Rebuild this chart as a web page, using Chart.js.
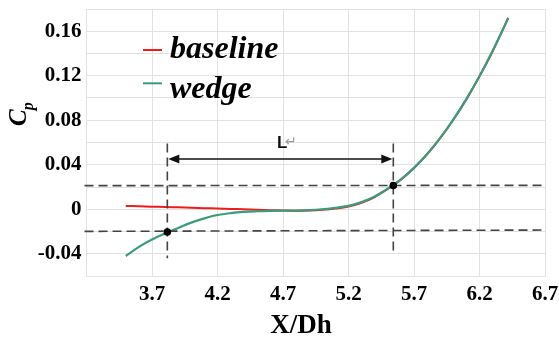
<!DOCTYPE html>
<html><head><meta charset="utf-8">
<script src="https://cdn.jsdelivr.net/npm/chart.js"></script>
<style>html,body{margin:0;padding:0;background:#fff;}#wrap{width:559px;height:338px;position:relative;}</style>
</head><body><div id="wrap"><canvas id="c"></canvas></div>
<script>
// ---- data ----
const xValues  = [3.5, 3.6, 3.7, 3.8, 3.9, 4.0, 4.1, 4.2, 4.3, 4.4, 4.5, 4.6, 4.7, 4.8, 4.9, 5.0, 5.1, 5.2, 5.3, 5.4, 5.5, 5.6, 5.7, 5.8, 5.9, 6.0, 6.1, 6.2, 6.3, 6.42];
const baseline = [0.003, 0.0027, 0.0023, 0.002, 0.0017, 0.0013, 0.001, 0.0006, 0.0003, 0.0, -0.0004, -0.0008, -0.0012, -0.0013, -0.0011, -0.0005, 0.0006, 0.0024, 0.0058, 0.0110, 0.0182, 0.0266, 0.0370, 0.0494, 0.0640, 0.0805, 0.0990, 0.1195, 0.1420, 0.1720];
const wedge    = [-0.042, -0.0338, -0.0272, -0.0218, -0.0168, -0.0120, -0.0082, -0.0052, -0.0035, -0.0024, -0.0018, -0.0014, -0.0013, -0.0012, -0.0008, 0.0, 0.0012, 0.0030, 0.0064, 0.0115, 0.0186, 0.0268, 0.0372, 0.0496, 0.0641, 0.0806, 0.0990, 0.1196, 0.1422, 0.1720];
const seriesNames = ['baseline', 'wedge'];
const xTickLabels = ['3.7', '4.2', '4.7', '5.2', '5.7', '6.2', '6.7'];
const yTickLabels = ['-0.04', '0', '0.04', '0.08', '0.12', '0.16'];
// reference markers
const markX = [3.817, 5.542];
const markY = [-0.0205, 0.0213];
const upperDash = [0.0212, 0.0215];
const lowerDash = [-0.0199, -0.0187];
const dashXRange = [3.185, 6.71];
const vDashTop = [0.059, 0.059];
const vDashBottom = [-0.044, -0.0375];
const arrowY = 0.0452;
const lengthLabel = ['L', '\u21B5'];

const RED = '#f01c1c', GREEN = '#3a9c7c', GRID = '#e2e2e2', DASH = '#444444';
const SERIF = '"Liberation Serif", "Times New Roman", serif';

const annot = {
  id: 'annot',
  afterDatasetsDraw(chart) {
    const {ctx, scales: {x, y}} = chart;
    ctx.save();
    ctx.strokeStyle = DASH; ctx.lineWidth = 1.6; ctx.setLineDash([9, 5]);
    ctx.beginPath();
    ctx.moveTo(x.getPixelForValue(dashXRange[0]), y.getPixelForValue(upperDash[0]));
    ctx.lineTo(x.getPixelForValue(dashXRange[1]), y.getPixelForValue(upperDash[1]));
    ctx.moveTo(x.getPixelForValue(dashXRange[0]), y.getPixelForValue(lowerDash[0]));
    ctx.lineTo(x.getPixelForValue(dashXRange[1]), y.getPixelForValue(lowerDash[1]));
    for (let i = 0; i < 2; i++) {
      ctx.moveTo(x.getPixelForValue(markX[i]), y.getPixelForValue(vDashTop[i]));
      ctx.lineTo(x.getPixelForValue(markX[i]), y.getPixelForValue(vDashBottom[i]));
    }
    ctx.stroke();
    ctx.setLineDash([]);
    const ay = y.getPixelForValue(arrowY);
    const ax0 = x.getPixelForValue(markX[0]) + 1, ax1 = x.getPixelForValue(markX[1]) - 1;
    ctx.strokeStyle = '#111'; ctx.fillStyle = '#111'; ctx.lineWidth = 1.5;
    ctx.beginPath(); ctx.moveTo(ax0 + 8, ay); ctx.lineTo(ax1 - 8, ay); ctx.stroke();
    ctx.beginPath(); ctx.moveTo(ax0, ay); ctx.lineTo(ax0 + 11, ay - 4.5); ctx.lineTo(ax0 + 11, ay + 4.5); ctx.closePath(); ctx.fill();
    ctx.beginPath(); ctx.moveTo(ax1, ay); ctx.lineTo(ax1 - 11, ay - 4.5); ctx.lineTo(ax1 - 11, ay + 4.5); ctx.closePath(); ctx.fill();
    ctx.font = 'bold 17px "Liberation Sans", Arial, sans-serif';
    ctx.textBaseline = 'alphabetic'; ctx.textAlign = 'left';
    ctx.fillStyle = '#111';
    ctx.fillText(lengthLabel[0], 277, 148);
    ctx.font = '14px "DejaVu Sans", sans-serif';
    ctx.fillStyle = '#9a9a9a';
    ctx.fillText(lengthLabel[1], 285, 146);
    ctx.fillStyle = '#000';
    for (let i = 0; i < 2; i++) {
      ctx.beginPath();
      ctx.arc(x.getPixelForValue(markX[i]), y.getPixelForValue(markY[i]), 3.8, 0, Math.PI * 2);
      ctx.fill();
    }
    ctx.restore();
  },
  afterDraw(chart) {
    const {ctx} = chart;
    ctx.save();
    const colors = [RED, GREEN];
    const ly = [50, 83.3], ty = [58.3, 97.7];
    for (let i = 0; i < 2; i++) {
      ctx.strokeStyle = colors[i]; ctx.lineWidth = 2;
      ctx.beginPath(); ctx.moveTo(143, ly[i]); ctx.lineTo(162, ly[i]); ctx.stroke();
      ctx.fillStyle = '#000';
      ctx.font = 'italic bold 32px ' + SERIF;
      ctx.textBaseline = 'alphabetic'; ctx.textAlign = 'left';
      ctx.fillText(seriesNames[i], 170, ty[i]);
    }
    ctx.translate(26, 126);
    ctx.rotate(-Math.PI / 2);
    ctx.font = 'italic bold 25px ' + SERIF;
    ctx.fillText('C', 0, 0);
    const w = ctx.measureText('C').width;
    ctx.font = 'italic bold 16px ' + SERIF;
    ctx.fillText('p', w - 1, 7);
    ctx.restore();
    ctx.save();
    ctx.font = 'bold 27px ' + SERIF;
    ctx.fillStyle = '#000'; ctx.textAlign = 'center'; ctx.textBaseline = 'alphabetic';
    ctx.fillText('X/Dh', 301, 333);
    ctx.restore();
  }
};

const tickFont = {family: SERIF, weight: 'bold', size: 21};
new Chart(document.getElementById('c'), {
  type: 'line',
  data: {
    datasets: [
      {label: seriesNames[0], data: xValues.map((v, i) => ({x: v, y: baseline[i]})), borderColor: RED, borderWidth: 2, pointRadius: 0, tension: 0.35, order: 2, fill: false},
      {label: seriesNames[1], data: xValues.map((v, i) => ({x: v, y: wedge[i]})), borderColor: GREEN, borderWidth: 2.2, pointRadius: 0, tension: 0.35, order: 1, fill: false}
    ]
  },
  options: {
    responsive: true, maintainAspectRatio: false, animation: false,
    layout: {padding: {left: 0, right: 14, top: 9, bottom: 0}},
    plugins: {legend: {display: false}, tooltip: {enabled: false}},
    scales: {
      x: {
        type: 'linear', min: 3.2, max: 6.7,
        ticks: {
          stepSize: 0.5, autoSkip: false, maxRotation: 0, padding: 6, color: '#000', font: tickFont, maxTicksLimit: 20,
          callback: (v) => { const s = (Math.round(v * 10) / 10).toFixed(1); return xTickLabels.includes(s) ? s : ''; }
        },
        grid: {color: GRID, drawTicks: false, lineWidth: 1},
        border: {color: GRID},
        afterFit: (s) => { s.height = 62; s.paddingLeft = 0; s.paddingRight = 0; }
      },
      y: {
        min: -0.06, max: 0.18,
        ticks: {
          stepSize: 0.02, padding: 5, color: '#000', font: tickFont, maxTicksLimit: 20, autoSkip: false,
          callback: (v) => { const r = Math.round(v * 100) / 100; const s = r === 0 ? '0' : r.toFixed(2); return yTickLabels.includes(s) ? s : ''; }
        },
        grid: {color: GRID, drawTicks: false, lineWidth: 1},
        border: {color: GRID},
        afterFit: (s) => { s.width = 86.5; s.paddingTop = 0; s.paddingBottom = 0; }
      }
    }
  },
  plugins: [annot]
});
</script></body></html>
